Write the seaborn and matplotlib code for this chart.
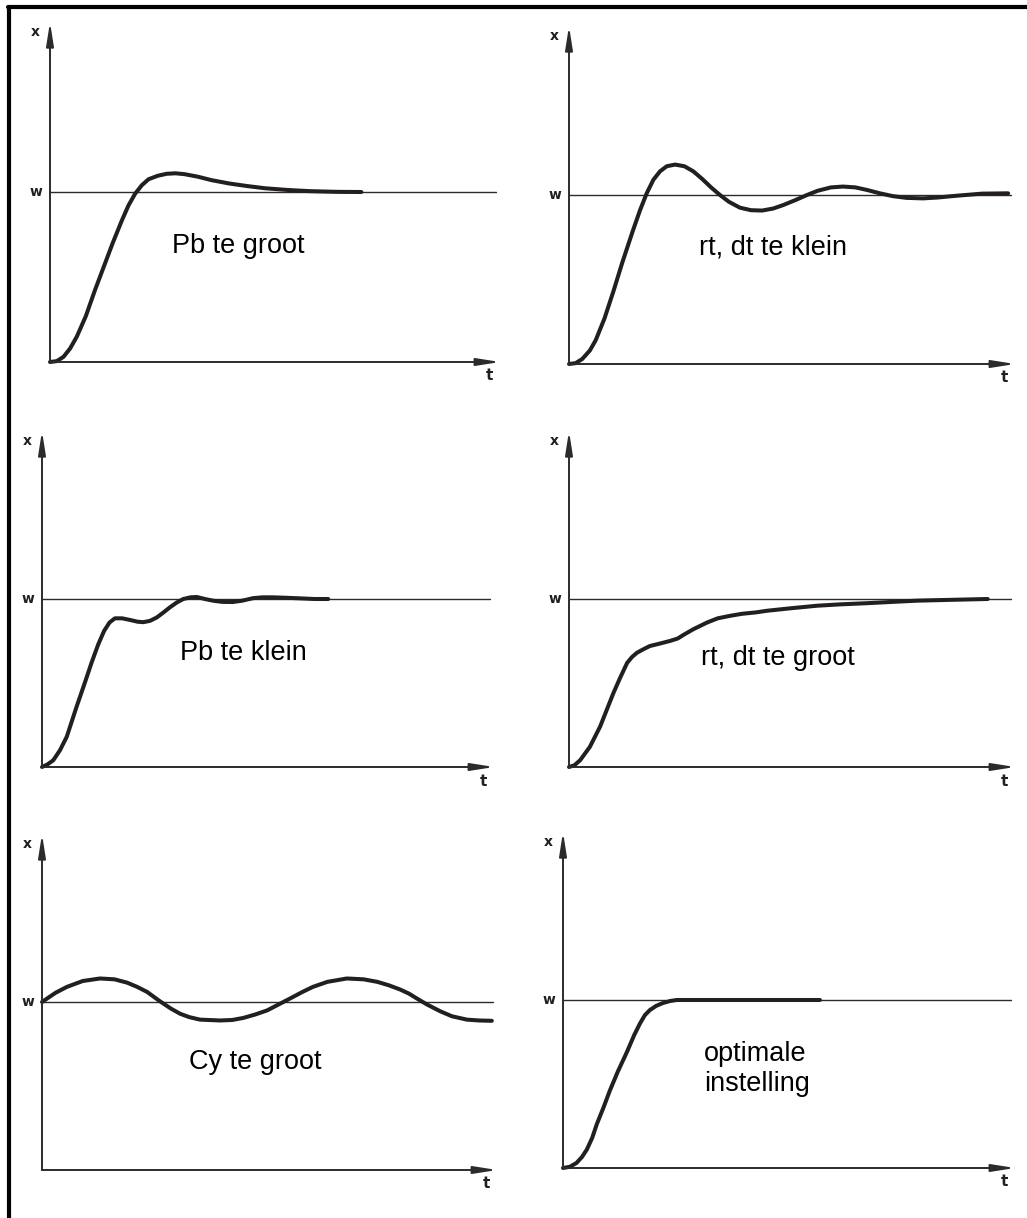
import seaborn as sns
import matplotlib
matplotlib.use('Agg')
from matplotlib import pyplot as plt
from matplotlib.lines import Line2D

# --- data (t along the time axis 0..10, x in units of setpoint w = 1) ---
pb_groot_t = [0, 0.15, 0.3, 0.45, 0.6, 0.8, 1.0, 1.2, 1.4, 1.6, 1.75, 1.9, 2.05, 2.2, 2.4, 2.6, 2.8, 3.0,
              3.3, 3.6, 4.0, 4.4, 4.8, 5.3, 5.8, 6.4, 6.95]
pb_groot_x = [0, 0.005, 0.03, 0.08, 0.15, 0.27, 0.42, 0.56, 0.70, 0.83, 0.92, 0.99, 1.04, 1.075, 1.095,
              1.107, 1.11, 1.105, 1.09, 1.07, 1.05, 1.035, 1.022, 1.012, 1.005, 1.001, 1.0]

rt_klein_t = [0, 0.15, 0.3, 0.47, 0.6, 0.8, 1.0, 1.2, 1.44, 1.6, 1.75, 1.9, 2.05, 2.2, 2.39, 2.6, 2.8, 3.0,
              3.2, 3.4, 3.6, 3.85, 4.1, 4.35, 4.6, 4.82, 5.1, 5.36, 5.6, 5.9, 6.17, 6.45, 6.71, 7.0, 7.3,
              7.6, 7.97, 8.3, 8.7, 9.3, 9.89]
rt_klein_x = [0, 0.005, 0.03, 0.08, 0.14, 0.27, 0.43, 0.60, 0.79, 0.91, 1.01, 1.09, 1.14, 1.17, 1.18, 1.17,
              1.14, 1.095, 1.045, 1.0, 0.96, 0.925, 0.91, 0.908, 0.92, 0.94, 0.97, 1.0, 1.025, 1.045, 1.05,
              1.045, 1.03, 1.01, 0.993, 0.983, 0.98, 0.985, 0.995, 1.008, 1.01]

pb_klein_t = [0, 0.12, 0.25, 0.4, 0.55, 0.77, 0.95, 1.1, 1.25, 1.38, 1.5, 1.62, 1.78, 1.96, 2.12, 2.25, 2.4,
              2.55, 2.7, 2.84, 3.0, 3.14, 3.3, 3.44, 3.62, 3.80, 4.0, 4.24, 4.45, 4.69, 4.9, 5.13, 5.45,
              5.73, 6.05, 6.36]
pb_klein_x = [0, 0.015, 0.04, 0.10, 0.18, 0.36, 0.50, 0.62, 0.73, 0.81, 0.86, 0.885, 0.885, 0.875, 0.865,
              0.862, 0.87, 0.89, 0.92, 0.95, 0.98, 1.0, 1.01, 1.012, 1.0, 0.99, 0.983, 0.982, 0.99, 1.005,
              1.01, 1.01, 1.007, 1.004, 1.0, 1.0]

rt_groot_t = [0, 0.12, 0.25, 0.47, 0.7, 0.85, 1.0, 1.15, 1.31, 1.42, 1.53, 1.67, 1.82, 2.05, 2.27, 2.45,
              2.57, 2.8, 3.11, 3.35, 3.63, 3.9, 4.2, 4.46, 5.0, 5.59, 6.1, 6.71, 7.3, 7.84, 8.6, 9.43]
rt_groot_x = [0, 0.01, 0.04, 0.12, 0.24, 0.34, 0.44, 0.53, 0.62, 0.655, 0.68, 0.70, 0.72, 0.735, 0.75,
              0.765, 0.785, 0.82, 0.86, 0.885, 0.90, 0.912, 0.92, 0.93, 0.945, 0.96, 0.968, 0.975, 0.983,
              0.99, 0.995, 1.0]

cy_groot_t = [0, 0.3, 0.55, 0.9, 1.28, 1.6, 1.88, 2.1, 2.32, 2.6, 2.85, 3.05, 3.25, 3.49, 3.93, 4.2, 4.44,
              4.7, 4.97, 5.22, 5.47, 5.75, 5.98, 6.3, 6.73, 7.1, 7.40, 7.65, 7.90, 8.1, 8.28, 8.5, 8.79,
              9.05, 9.38, 9.65, 9.93]
cy_groot_x = [1.0, 1.055, 1.09, 1.125, 1.14, 1.135, 1.115, 1.09, 1.06, 1.005, 0.96, 0.93, 0.91, 0.895,
              0.89, 0.893, 0.905, 0.925, 0.95, 0.985, 1.02, 1.06, 1.09, 1.12, 1.14, 1.135, 1.12, 1.1, 1.075,
              1.05, 1.02, 0.985, 0.945, 0.915, 0.895, 0.89, 0.888]

optimaal_t = [0, 0.15, 0.3, 0.42, 0.53, 0.65, 0.75, 0.9, 1.04, 1.22, 1.42, 1.58, 1.71, 1.82, 1.93, 2.07,
              2.22, 2.38, 2.53, 3.5, 5.71]
optimaal_x = [0, 0.007, 0.03, 0.065, 0.11, 0.18, 0.26, 0.36, 0.46, 0.575, 0.69, 0.79, 0.86, 0.91, 0.94,
              0.965, 0.982, 0.994, 1.0, 1.0, 1.0]

labels = ['Pb te groot', 'rt, dt te klein', 'Pb te klein', 'rt, dt te groot', 'Cy te groot',
          'optimale\ninstelling']
curves = [(pb_groot_t, pb_groot_x), (rt_klein_t, rt_klein_x), (pb_klein_t, pb_klein_x),
          (rt_groot_t, rt_groot_x), (cy_groot_t, cy_groot_x), (optimaal_t, optimaal_x)]
label_pos = [(4.2, 0.68), (4.6, 0.69), (4.47, 0.68), (4.71, 0.65), (4.7, 0.64), (3.13, 0.59)]

# panel layout in pixels: left edge, origin row, arrow tip column, pixels per unit of x
layout = [(50, 362, 498, 170), (569, 364, 1013, 169),
          (42, 767, 492, 168), (569, 767, 1013, 168),
          (42, 1170, 495, 168), (563, 1168, 1013, 168)]

W, H = 1027, 1218
INK = '#231f20'

sns.set_theme(style='white', context='paper')
plt.rcParams['font.family'] = ['Liberation Sans', 'DejaVu Sans']

fig = plt.figure(figsize=(W / 100, H / 100), dpi=100)
fig.patch.set_facecolor('white')

# frame lines (top and left only)
fig.add_artist(Line2D([8 / W, 1], [1 - 7 / H, 1 - 7 / H], color='black', lw=3.0, transform=fig.transFigure))
fig.add_artist(Line2D([9 / W, 9 / W], [0, 1 - 7 / H], color='black', lw=3.0, transform=fig.transFigure))

arrow = dict(arrowstyle='-|>,head_length=1.4,head_width=0.22', lw=1.4, color='#2b2b2b',
             shrinkA=0, shrinkB=0, mutation_scale=10)

for (left, origin, tip, unit), (t, x), text, (tx, ty) in zip(layout, curves, labels, label_pos):
    ax = fig.add_axes([left / W, (H - origin) / H, (tip - left) / W, 2 * unit / H])
    ax.set_xlim(0, 10)
    ax.set_ylim(0, 2)
    ax.axis('off')

    # axes with arrows
    ax.annotate('', xy=(10.05, 0), xytext=(0, 0), arrowprops=arrow, annotation_clip=False)
    ax.annotate('', xy=(0, 2.0), xytext=(0, 0), arrowprops=arrow, annotation_clip=False)

    # setpoint line
    ax.plot([0, 9.95], [1, 1], color='#2b2b2b', lw=1.0, clip_on=False)

    sns.lineplot(x=t, y=x, ax=ax, color=INK, linewidth=2.9, sort=False, estimator=None,
                 solid_joinstyle='round', solid_capstyle='round', clip_on=False)

    ax.annotate('x', xy=(0, 1.94), xytext=(-15, 0), textcoords='offset pixels', ha='center', va='center',
                fontsize=10, fontweight='bold', color=INK, family='DejaVu Sans', annotation_clip=False)
    ax.annotate('w', xy=(0, 1.0), xytext=(-14, 0), textcoords='offset pixels', ha='center', va='center',
                fontsize=10, fontweight='bold', color=INK, family='DejaVu Sans', annotation_clip=False)
    ax.annotate('t', xy=(10, 0), xytext=(-9, -14), textcoords='offset pixels', ha='center', va='center',
                fontsize=11, fontweight='bold', color=INK, family='DejaVu Sans', annotation_clip=False)

    if '\n' in text:
        ax.text(tx, ty, text, ha='left', va='center', fontsize=19.5, color='black', linespacing=1.2)
    else:
        ax.text(tx, ty, text, ha='center', va='center', fontsize=19.5, color='black')

fig.savefig('out.png', dpi=100)
